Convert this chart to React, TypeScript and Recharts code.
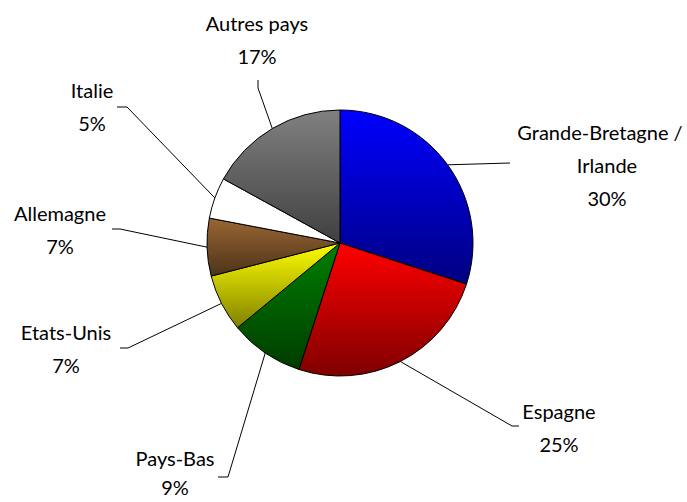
import { PieChart, Pie, Cell } from 'recharts'

const countries = ['Grande-Bretagne / Irlande', 'Espagne', 'Pays-Bas', 'Etats-Unis', 'Allemagne', 'Italie', 'Autres pays']
const shares = [30, 25, 9, 7, 7, 5, 17]

const topColors = ['#0000ff', '#ff0000', '#008000', '#ffff00', '#996633', '#ffffff', '#808080']
const bottomColors = ['#000080', '#800000', '#003c00', '#808000', '#4d3319', '#ffffff', '#404040']

// label placement relative to pie centre: elbow, tail end, first text line
const labelSpots = [
    { ex: 170, ey: -80, tx: 170, ty: -80, lx: 267, ly: -111 },
    { ex: 172, ey: 183, tx: 179, ty: 183, lx: 219, ly: 168 },
    { ex: -112, ey: 234, tx: -122, ty: 234, lx: -165, ly: 215 },
    { ex: -212, ey: 105, tx: -220, ty: 105, lx: -274, ly: 89 },
    { ex: -220, ey: -14, tx: -228, ty: -14, lx: -280, ly: -30 },
    { ex: -213, ey: -136, tx: -223, ty: -136, lx: -248, ly: -153 },
    { ex: -82, ey: -155, tx: -82, ty: -163, lx: -83, ly: -220 },
]

const data = countries.map((name, i) => ({ name, value: shares[i] }))

const RAD = Math.PI / 180
const FONT = 'Lato, "Open Sans", sans-serif'

function renderLabel(props: any) {
    const { cx, cy, midAngle, outerRadius, index, name, value } = props
    const spot = labelSpots[index]
    const sx = cx + outerRadius * Math.cos(-midAngle * RAD)
    const sy = cy + outerRadius * Math.sin(-midAngle * RAD)
    // Excel wraps the long name after the slash (trailing space pulls that line left)
    const lines = name.includes(' / ')
        ? [{ t: name.split(' / ')[0] + ' /', dx: -7 }, { t: name.split(' / ')[1], dx: 0 }]
        : [{ t: name, dx: 0 }]
    lines.push({ t: value + '%', dx: 0 })
    // the bottom label sits close to the edge, so its lines are packed a bit tighter
    const gap = index === 2 ? 29 : 33
    return (
        <g key={'lbl' + index}>
            <polyline
                points={`${sx},${sy} ${cx + spot.ex},${cy + spot.ey} ${cx + spot.tx},${cy + spot.ty}`}
                fill="none"
                stroke="#000"
                strokeWidth={1}
            />
            {lines.map((l, j) => (
                <text
                    key={j}
                    x={cx + spot.lx + l.dx}
                    y={cy + spot.ly + j * gap}
                    textAnchor="middle"
                    dominantBaseline="central"
                    fontFamily={FONT}
                    fontSize={20}
                    fill="#000"
                >
                    {l.t}
                </text>
            ))}
        </g>
    )
}

export default function App() {
    return (
        <div style={{ position: 'absolute', left: 0, top: 0, width: 687, height: 502, background: '#fff' }}>
            <PieChart width={687} height={502} margin={{ top: 0, right: 0, bottom: 0, left: 0 }}>
                <defs>
                    {topColors.map((c, i) => (
                        <linearGradient key={i} id={'grad' + i} x1="0" y1="0" x2="0" y2="1">
                            <stop offset="0%" stopColor={c} />
                            <stop offset="100%" stopColor={bottomColors[i]} />
                        </linearGradient>
                    ))}
                </defs>
                <Pie
                    data={data}
                    dataKey="value"
                    nameKey="name"
                    cx={340}
                    cy={243}
                    outerRadius={133}
                    startAngle={90}
                    endAngle={-270}
                    stroke="#000"
                    strokeWidth={1}
                    label={renderLabel}
                    labelLine={false}
                    isAnimationActive={false}
                >
                    {data.map((d, i) => (
                        <Cell key={d.name} fill={`url(#grad${i})`} />
                    ))}
                </Pie>
            </PieChart>
        </div>
    )
}
